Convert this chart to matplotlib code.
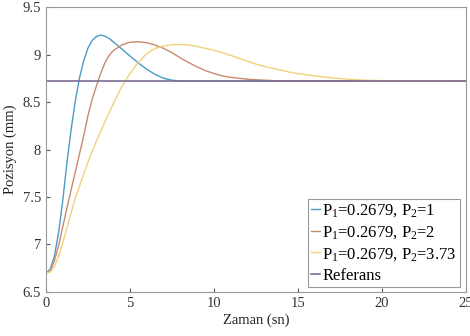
import matplotlib
matplotlib.use("Agg")
import matplotlib.pyplot as plt

plt.rcParams['font.family'] = ['Liberation Serif', 'DejaVu Serif']
plt.rcParams['mathtext.fontset'] = 'custom'
plt.rcParams['mathtext.rm'] = 'Liberation Serif'
plt.rcParams['mathtext.it'] = 'Liberation Serif'

# values
t_blue = [0, 0.25, 0.5, 0.75, 1.0, 1.25, 1.5, 1.75, 2.0, 2.25, 2.5, 2.75, 3.0, 3.25,
          3.5, 3.75, 4.0, 4.5, 5.0, 5.5, 6.0, 6.5, 7.0, 7.5, 8.0, 10, 15, 20, 25]
y_blue = [6.70, 6.74, 6.88, 7.13, 7.47, 7.87, 8.22, 8.52, 8.76, 8.94, 9.07, 9.15, 9.19, 9.205,
          9.195, 9.17, 9.135, 9.06, 8.985, 8.91, 8.845, 8.79, 8.75, 8.73, 8.72, 8.72, 8.72, 8.72, 8.72]

t_orange = [0, 0.25, 0.5, 0.75, 1.0, 1.25, 1.5, 1.75, 2.0, 2.25, 2.5, 2.75, 3.0, 3.25, 3.5,
            3.75, 4.0, 4.5, 5.0, 5.5, 6.0, 6.5, 7.0, 7.5, 8.0, 8.5, 9.0, 9.5, 10, 10.5,
            11, 12, 13, 14, 20, 25]
y_orange = [6.70, 6.72, 6.83, 6.99, 7.19, 7.39, 7.58, 7.77, 7.96, 8.15, 8.36, 8.53, 8.67, 8.80, 8.91,
            8.99, 9.04, 9.10, 9.13, 9.135, 9.125, 9.10, 9.065, 9.02, 8.965, 8.915, 8.87, 8.83, 8.80, 8.775,
            8.76, 8.74, 8.73, 8.722, 8.72, 8.72]

t_yellow = [0, 0.25, 0.5, 0.75, 1.0, 1.25, 1.5, 1.75, 2.0, 2.5, 3.0, 3.5, 4.0, 4.5, 5.0,
            5.5, 6.0, 6.5, 7.0, 7.5, 8.0, 8.5, 9.0, 9.5, 10, 10.5, 11, 11.5, 12, 12.5,
            13, 13.5, 14, 14.5, 15, 16, 17, 18, 19, 20, 25]
y_yellow = [6.70, 6.71, 6.77, 6.88, 7.02, 7.18, 7.34, 7.49, 7.62, 7.87, 8.09, 8.29, 8.48, 8.66, 8.80,
            8.92, 9.01, 9.065, 9.09, 9.103, 9.107, 9.10, 9.085, 9.065, 9.045, 9.02, 8.99, 8.96, 8.93, 8.90,
            8.875, 8.855, 8.835, 8.815, 8.80, 8.775, 8.755, 8.74, 8.73, 8.725, 8.72]

t_ref = [0, 25]
y_ref = [8.72, 8.72]

labels = ['P$_1$=0.2679, P$_2$=1', 'P$_1$=0.2679, P$_2$=2',
          'P$_1$=0.2679, P$_2$=3.73', 'Referans']
colors = ['#4a9cc4', '#c98a70', '#efd27a', '#7d6c94']

fig = plt.figure(figsize=(4.7, 3.36), dpi=100)
ax = fig.add_axes([0.098, 0.131, 0.893, 0.848])

ax.plot(t_blue, y_blue, color=colors[0], lw=1.0, label=labels[0])
ax.plot(t_orange, y_orange, color=colors[1], lw=1.0, label=labels[1])
ax.plot(t_yellow, y_yellow, color=colors[2], lw=1.0, label=labels[2])
ax.plot(t_ref, y_ref, color=colors[3], lw=1.2, label=labels[3])

ax.set_xlim(0, 25)
ax.set_ylim(6.5, 9.5)
ax.set_xticks([0, 5, 10, 15, 20, 25])
ax.set_yticks([6.5, 7, 7.5, 8, 8.5, 9, 9.5])
ax.set_yticklabels(['6.5', '7', '7.5', '8', '8.5', '9', '9.5'])
ax.tick_params(direction='in', length=3, labelsize=10.5, colors='#555555', labelcolor='#333333')
for s in ax.spines.values():
    s.set_color('#999999')
    s.set_linewidth(0.8)

ax.set_xlabel('Zaman (sn)', fontsize=10.5, color='#222222', labelpad=3)
ax.set_ylabel('Pozisyon (mm)', fontsize=10.5, color='#222222', labelpad=4)

leg = ax.legend(loc='lower right', bbox_to_anchor=(0.986, 0.0175), borderaxespad=0,
                fontsize=12, handlelength=0.5, handletextpad=0.15, labelspacing=0.3,
                borderpad=0.2, fancybox=False, framealpha=1)
leg.get_frame().set_edgecolor('#999999')
leg.get_frame().set_linewidth(0.8)

fig.savefig('out.png', dpi=100)
